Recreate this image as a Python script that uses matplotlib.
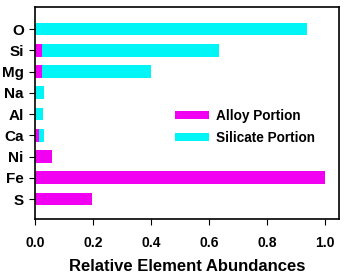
import matplotlib
matplotlib.use("Agg")
import matplotlib.pyplot as plt
import numpy as np

elements = ["O", "Si", "Mg", "Na", "Al", "Ca", "Ni", "Fe", "S"]
alloy = [0.0, 0.025, 0.025, 0.0, 0.0, 0.013, 0.058, 1.0, 0.197]
silicate = [0.936, 0.61, 0.375, 0.031, 0.029, 0.018, 0.0, 0.0, 0.0]

plt.rcParams["font.family"] = ["Liberation Sans", "DejaVu Sans"]
plt.rcParams["font.weight"] = "bold"

fig = plt.figure(figsize=(3.46, 2.74), dpi=100)
ax = fig.add_axes([0.101, 0.2007, 0.878, 0.7733])

y = np.arange(len(elements))
ax.barh(y, alloy, height=0.6, color="#f200f2", label="Alloy Portion")
ax.barh(y, silicate, height=0.6, left=alloy, color="#00f6f6", label="Silicate Portion")

ax.set_ylim(8.94, -1.03)
ax.set_xlim(0, 1.047)
ax.set_yticks(y)
ax.set_yticklabels(elements, fontsize=11, fontweight="bold")
ax.set_xticks([0, 0.2, 0.4, 0.6, 0.8, 1.0])
ax.set_xticklabels(["0.0", "0.2", "0.4", "0.6", "0.8", "1.0"], fontsize=10, fontweight="bold")
ax.tick_params(axis="x", length=4, pad=8, width=0.8)
ax.tick_params(axis="y", length=4, pad=4, width=0.8)
for s in ax.spines.values():
    s.set_linewidth(1.2)

ax.set_xlabel("Relative Element Abundances", fontsize=12, fontweight="bold", labelpad=7)

ax.legend(loc="center left", bbox_to_anchor=(0.46, 0.436), frameon=False,
          handlelength=2.5, handleheight=0.5, handletextpad=0.5, labelspacing=0.6,
          borderpad=0, borderaxespad=0,
          prop={"weight": "bold", "size": 9.8})

fig.savefig("out.png", dpi=100)
